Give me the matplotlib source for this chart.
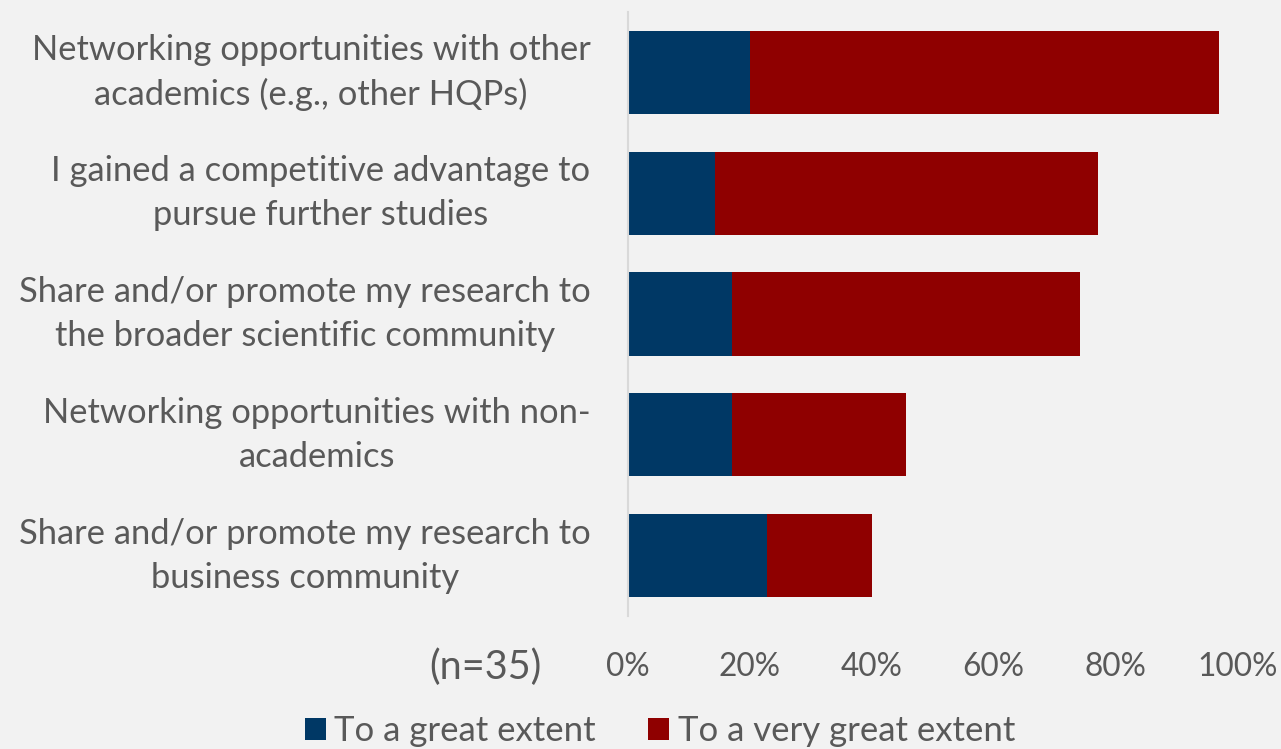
import numpy as np
import matplotlib
matplotlib.use('Agg')
import matplotlib.pyplot as plt

plt.rcParams['font.family'] = ['Lato', 'DejaVu Sans']

labels = ['Networking opportunities with other\nacademics (e.g., other HQPs)',
          'I gained a competitive advantage to\npursue further studies',
          'Share and/or promote my research to\nthe broader scientific community',
          'Networking opportunities with non-\nacademics',
          'Share and/or promote my research to\nbusiness community']
great = [20.0, 14.3, 17.1, 17.1, 22.9]
very_great = [77.1, 62.9, 57.1, 28.6, 17.1]
series_names = ['To a great extent', 'To a very great extent']
xticks = [0, 20, 40, 60, 80, 100]

bg = '#f2f2f2'
txt = '#595959'
blue = '#003865'
red = '#8f0000'

fig = plt.figure(figsize=(12.81, 7.49), dpi=100, facecolor=bg)
ax = fig.add_axes([0.4902, 0.1776, 0.4755, 0.8064], facecolor=bg)

y = np.arange(len(labels))
b1 = ax.barh(y, great, height=0.69, color=blue, label=series_names[0])
b2 = ax.barh(y, very_great, left=great, height=0.69, color=red, label=series_names[1])

ax.set_ylim(len(labels) - 0.5, -0.5)
ax.set_xlim(0, 100)
ax.set_yticks(y)
ax.set_yticklabels(labels, fontsize=24.8, color=txt, multialignment='center',
                   linespacing=1.46, va='center')
ax.set_xticks(xticks)
ax.set_xticklabels(['%d%%' % v for v in xticks], fontsize=22.8, color=txt)
ax.tick_params(axis='y', length=0, pad=27)
ax.tick_params(axis='x', length=0, pad=26)

for s in ['top', 'right', 'bottom']:
    ax.spines[s].set_visible(False)
ax.spines['left'].set_color('#d9d9d9')
ax.spines['left'].set_linewidth(1.5)

fig.text(485 / 1281, 1 - 667 / 749, '(n=35)', fontsize=28.5, color=txt,
         ha='center', va='center')

leg = fig.legend(handles=[b1, b2], loc='center', bbox_to_anchor=(660 / 1281, 1 - 731 / 749),
                 ncol=2, frameon=False, fontsize=25, handlelength=0.6, handleheight=0.6,
                 handletextpad=0.25, columnspacing=1.5)
for t in leg.get_texts():
    t.set_color(txt)

fig.savefig('out.png', dpi=100, facecolor=bg)
